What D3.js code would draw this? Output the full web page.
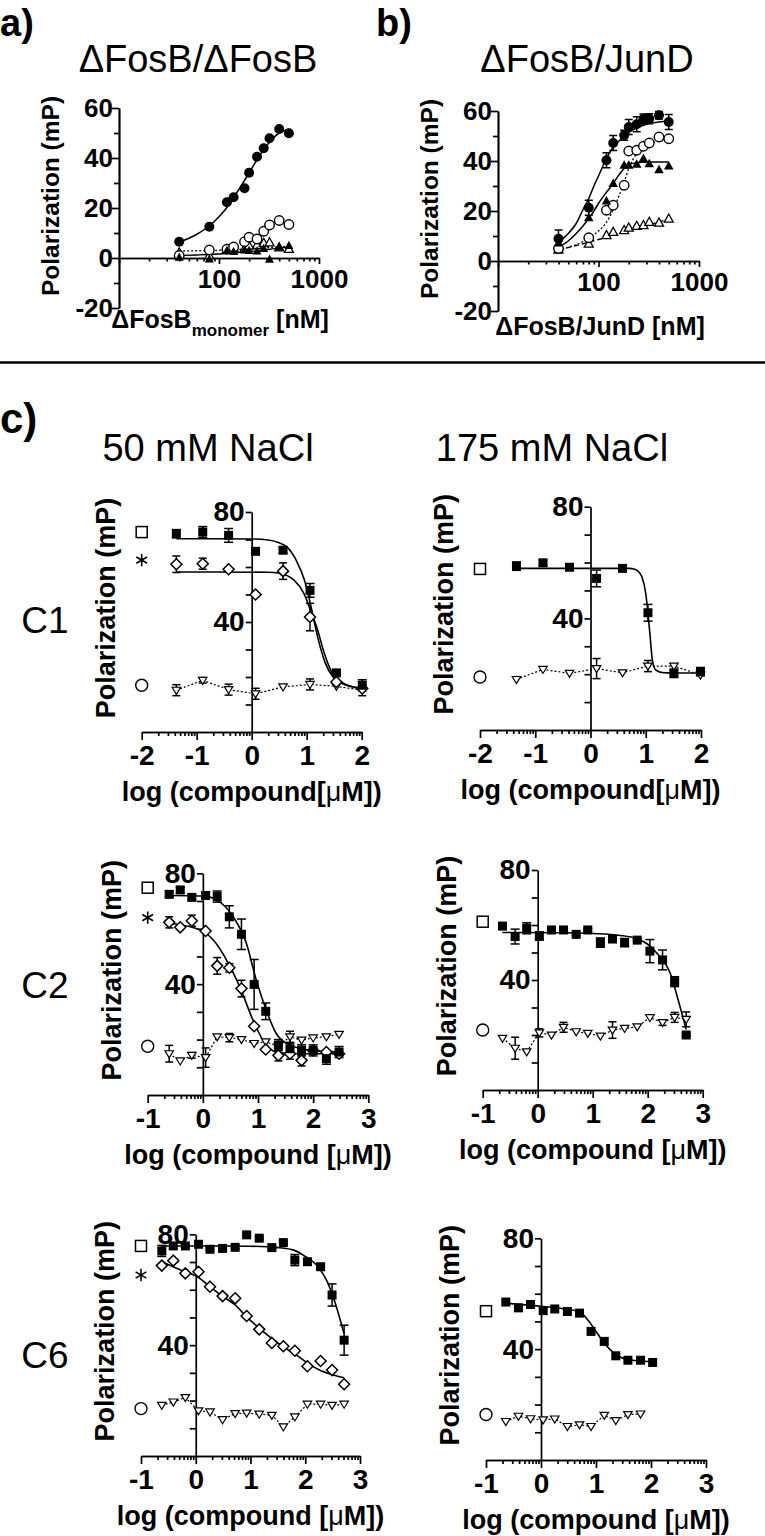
<!DOCTYPE html>
<html><head><meta charset="utf-8">
<script src="https://cdn.jsdelivr.net/npm/d3@7"></script>
<style>
body{margin:0;background:#fff}
svg{display:block}
text{font-family:'Liberation Sans',Arial,Helvetica,sans-serif;fill:#000}
</style>
</head><body>
<script>
// ---------------- DATA ----------------
// panel a / b : concentrations (nM)
const abConc = [40, 80, 120, 140, 180, 200, 240, 280, 320, 400, 500];
const abTicksMajor = [10, 100, 1000];
const abTicksMinor = [20, 30, 40, 50, 60, 70, 80, 90, 200, 300, 400, 500, 600, 700, 800, 900];
const abYMajor = [-20, 0, 20, 40, 60];
const abYMinor = [-10, 10, 30, 50];

const aFilledCircle   = [6.5, 12.5, 22.3, 24.3, 27.9, 34.1, 40.5, 43.9, 47.9, 51.6, 49.9];
const aOpenCircle     = [1.0, 3.2, 3.5, 4.4, 6.5, 8.3, 7.6, 10.7, 13.2, 15.0, 13.4];
const aOpenTriangle   = [2.2, 1.0, 3.5, 4.0, 3.8, 4.9, 5.2, 6.0, 6.2, 4.2, 3.6];
const aFilledTriangle = [0.3, -0.4, 3.0, 2.6, 3.2, 3.0, 2.8, 3.8, -0.5, 4.4, 5.0];
const aFitConc        = [40, 60, 80, 100, 120, 150, 200, 250, 300, 400, 500];
const aFitFilledCircle   = [6.3, 9.5, 12.8, 16.5, 20.2, 26, 34, 40.5, 45, 50, 51.5];
const aFitOpenTriangle   = [2.8, 2.9, 3.0, 3.1, 3.2, 3.4, 3.6, 3.9, 4.1, 4.4, 4.6];
const aFitFilledTriangle = [1.0, 1.2, 1.4, 1.6, 1.8, 2.1, 2.6, 3.0, 3.4, 4.0, 4.5];

const bFilledCircle    = [8.9, 21.3, 40.3, 47.2, 50.3, 53.6, 54.7, 56.8, 56.9, 58.3, 55.6];
const bFilledCircleErr = [3.5, 3, 3, 3, 2, 3, 3, 2, 2, 1.5, 3];
const bOpenCircle      = [5.0, 9.3, 20.3, 22.3, 30.3, 44.0, 44.3, 45.9, 47.2, 49.6, 48.9];
const bFilledTriangle  = [7.2, 17.3, 24.0, 31.0, 38.3, 38.3, 38.7, 41.0, 38.9, 36.5, 38.0];
const bOpenTriangle    = [4.5, 6.9, 10.3, 11.6, 12.3, 13.3, 14.0, 14.3, 15.6, 15.3, 16.9];
const bFitConc         = [40, 50, 60, 70, 80, 90, 100, 120, 140, 160, 180, 200, 240, 280, 320, 400, 500];
const bFitFilledCircle   = [7.5, 11, 15, 20.5, 25, 30, 34, 41, 45.5, 48, 50, 51.5, 53.2, 54.3, 55, 55.6, 56];
const bFitFilledTriangle = [5.5, 8, 11, 14, 17, 20, 23, 27.5, 31, 34.5, 37, 38.5, 39.3, 39.5, 39.6, 39.6, 39.6];
const bFitOpenCircle     = [4.5, 5.5, 6.5, 7.8, 9, 10.5, 12, 15.5, 20.5, 26, 31.5, 37, 43, 45.5, 46.8, 48, 48.6];
const bFitOpenTriangle   = [4.5, 5.4, 6.2, 6.9, 7.5, 8.1, 8.6, 9.5, 10.3, 11, 11.6, 12.2, 13.1, 13.9, 14.5, 15.6, 16.7];

// panel c : log(compound [uM])
const cYTicks = [10, 20, 30, 40, 50, 60, 70, 80];
const cYLabels = [40, 80];
const c1XTicks = [-2, -1, 0, 1, 2];
const c26XTicks = [-1, 0, 1, 2, 3];

const c1LX = [-1.37, -0.89, -0.42, 0.07, 0.57, 1.06, 1.54, 2.01];
const c1LSquare = [72.1, 72.7, 71.5, 65.7, 66.1, 51.5, 21.5, 17.0];
const c1LSquareErr = [1.5, 2, 2.5, 1, 1, 2.5, 1, 2];
const c1LDiamond = [61.0, 61.2, 59.2, 50.0, 58.5, 41.8, 18.2, 15.8];
const c1LDiamondErr = [3, 2, 0, 0, 3, 5, 0, 0];
const c1LTriangle = [15.2, 18.8, 15.4, 13.9, 16.4, 17.3, 16.6, 15.2];
const c1LTriangleErr = [2, 1, 2, 2, 0, 2, 0, 2];
const c1LFitSX = [-1.37, 0, 0.3, 0.5, 0.64, 0.81, 0.96, 1.08, 1.2, 1.33, 1.48, 1.72, 2.02];
const c1LFitS  = [70.3, 70.2, 69.8, 68.8, 67.3, 62.4, 55.2, 45.5, 34.5, 25.5, 20, 17, 15.8];
const c1LFitDX = [-1.37, 0.3, 0.5, 0.77, 0.95, 1.07, 1.2, 1.32, 1.47, 1.68, 2.02];
const c1LFitD  = [58.2, 58.1, 57.7, 55.2, 50.3, 44.2, 37, 28.6, 21.2, 17.6, 15.9];
const c1LControls = [72.7, 62.5, 17.0];

const c1RX = [-1.34, -0.86, -0.38, 0.11, 0.58, 1.04, 1.51, 1.99];
const c1RSquare = [58.7, 59.9, 58.3, 54.3, 57.9, 42.0, 20.3, 20.9];
const c1RSquareErr = [1.5, 1, 1, 3, 1, 3, 1.5, 1.5];
const c1RTriangle = [18.1, 21.7, 20.3, 22.0, 20.5, 22.9, 22.9, 19.7];
const c1RTriangleErr = [0, 0, 0, 3.6, 0, 2, 0, 0];
const c1RFitSX = [-1.34, 0.7, 0.8, 0.88, 0.93, 1.0, 1.04, 1.08, 1.12, 1.18, 1.33, 1.99];
const c1RFitS  = [57.9, 57.9, 57.6, 56.5, 54.9, 48.9, 41.8, 33.4, 25, 21.5, 20.5, 20.4];
const c1RControls = [57.7, null, 19.0];

const c2LX = [-0.61, -0.41, -0.20, 0.05, 0.26, 0.48, 0.70, 0.93, 1.14, 1.37, 1.58, 1.79, 2.00, 2.24, 2.47];
const c2LSquare = [72.4, 74.0, 71.3, 72.0, 71.6, 64.3, 58.0, 39.9, 30.2, 18.0, 16.7, 16.1, 16.1, 13.1, 15.5];
const c2LSquareErr = [1, 1, 1, 1, 2, 4, 5.5, 9, 3, 2, 2, 2, 2, 2, 2];
const c2LDiamond = [62.3, 60.5, 62.9, 59.2, 46.6, 45.9, 38.4, 24.8, 16.4, 14.3, 14.9, 12.5, 16.1, 15.5, 14.9];
const c2LDiamondErr = [2, 0, 2, 0, 3, 1.5, 3, 0, 0, 2, 2, 2, 0, 0, 0];
const c2LTriangle = [14.9, 12.3, 14.3, 13.5, 21.0, 20.7, 20.0, 18.6, 19.2, 17.6, 21.0, 19.8, 20.6, 21.0, 21.9];
const c2LTriangleErr = [3, 0, 1, 3.5, 0, 1.5, 0, 0, 0, 0, 2, 0, 0, 0, 0];
const c2LFitSX = [-0.61, 0, 0.25, 0.55, 0.79, 0.97, 1.15, 1.33, 1.58, 2.0, 2.47];
const c2LFitS  = [72, 71.8, 70.4, 64.3, 54.7, 41.4, 30.6, 22.2, 18, 16, 15.5];
const c2LFitDX = [-0.61, -0.04, 0.19, 0.43, 0.67, 0.91, 1.09, 1.33, 1.6, 2.0, 2.47];
const c2LFitD  = [62.0, 59.5, 55.9, 48.7, 39, 27, 19.8, 15.5, 15, 14.9, 14.9];
const c2LControls = [74.8, 64.0, 17.6];

const c2RX = [-0.64, -0.41, -0.20, 0.03, 0.25, 0.47, 0.70, 0.91, 1.14, 1.36, 1.58, 1.81, 2.04, 2.27, 2.49, 2.70];
const c2RSquare = [59.6, 55.8, 58.8, 56.0, 58.2, 58.2, 56.6, 58.2, 53.6, 54.9, 53.6, 54.5, 50.5, 47.3, 39.4, 20.0];
const c2RSquareErr = [0.5, 2.7, 2, 1.5, 0.5, 0.5, 0.5, 0.5, 1.7, 1, 1.5, 0.5, 4.2, 3.6, 1.8, 0.5];
const c2RTriangle = [18.8, 15.2, 13.9, 20.8, 20.0, 22.8, 21.2, 20.6, 19.6, 21.8, 22.4, 23.0, 26.3, 24.5, 26.4, 25.7];
const c2RTriangleErr = [0, 4, 0, 1.5, 0, 1.8, 0, 0, 0, 3, 0, 0, 0, 1, 1.8, 2.7];
const c2RFitSX = [-0.64, 0.5, 1.0, 1.5, 1.8, 2.0, 2.2, 2.4, 2.55, 2.7];
const c2RFitS  = [57.3, 57.2, 56.9, 56.2, 55, 53, 49, 43, 33, 22];
const c2RControls = [61.2, null, 21.8];

const c6LX = [-0.62, -0.41, -0.19, 0.05, 0.26, 0.49, 0.72, 0.93, 1.16, 1.39, 1.60, 1.81, 2.04, 2.28, 2.49, 2.71];
const c6LSquare = [74.0, 75.8, 75.8, 76.4, 74.6, 74.9, 75.3, 79.8, 78.6, 75.2, 77.0, 70.7, 70.1, 68.3, 58.1, 41.8];
const c6LSquareErr = [2, 1, 0.5, 0.5, 0.5, 0.5, 0.5, 0.5, 0.5, 0.5, 0.5, 2, 1, 1, 4, 5.4];
const c6LDiamond = [68.7, 70.5, 65.9, 66.5, 61.1, 57.7, 56.9, 50.5, 45.7, 40.8, 39.6, 38.0, 32.4, 34.3, 31.0, 25.9];
const c6LTriangle = [18.3, 19.5, 21.1, 16.3, 15.9, 13.1, 15.3, 15.5, 15.1, 14.7, 10.5, 14.1, 18.7, 18.7, 18.3, 18.7];
const c6LFitSX = [-0.62, 0, 0.5, 1.0, 1.5, 1.8, 2.0, 2.2, 2.4, 2.55, 2.71];
const c6LFitS  = [75.8, 75.8, 75.8, 75.7, 75.2, 74.2, 72, 69, 63, 55, 44];
const c6LFitDX = [-0.62, -0.2, 0.03, 0.26, 0.5, 0.72, 0.93, 1.17, 1.39, 1.6, 1.84, 2.05, 2.26, 2.51, 2.71];
const c6LFitD  = [70.1, 66.5, 64.7, 61.1, 57.5, 54.5, 50.2, 46, 42.4, 39.4, 36.4, 33.4, 31, 29.2, 28.2];
const c6LControls = [75.8, 65.3, 17.1];

const c6RX = [-0.64, -0.41, -0.19, 0.04, 0.25, 0.48, 0.70, 0.91, 1.15, 1.36, 1.58, 1.81, 2.03];
const c6RSquare = [57.0, 54.9, 56.1, 53.9, 54.5, 53.6, 53.0, 46.4, 42.8, 37.6, 36.0, 36.0, 35.2];
const c6RTriangleX = [-0.64, -0.41, -0.19, 0.04, 0.25, 0.48, 0.70, 0.91, 1.15, 1.36, 1.58, 1.81];
const c6RTriangle = [13.9, 15.8, 14.9, 14.5, 14.8, 12.1, 12.7, 12.1, 16.1, 14.2, 16.4, 16.6];
const c6RFitSX = [-0.64, 0.04, 0.4, 0.71, 0.86, 1.01, 1.19, 1.35, 1.53, 1.75, 2.04];
const c6RFitS  = [56.6, 55.4, 54.6, 53.3, 50.3, 46.1, 41.2, 38.2, 36.4, 35.8, 35.5];
const c6RControls = [53.7, null, 16.4];

// ---------------- DRAWING ----------------
const FONT = "'Liberation Sans', Arial, Helvetica, sans-serif";
const svg = d3.select("body").append("svg").attr("width", 765).attr("height", 1536);
svg.append("rect").attr("width", 765).attr("height", 1536).attr("fill", "#fff");

function marker(g, type, cx, cy, s) {
  const h = s / 2;
  let el;
  switch (type) {
    case "fcircle": el = g.append("circle").attr("cx", cx).attr("cy", cy).attr("r", h).attr("fill", "#000"); break;
    case "ocircle": el = g.append("circle").attr("cx", cx).attr("cy", cy).attr("r", h).attr("fill", "#fff").attr("stroke", "#000").attr("stroke-width", 1.4); break;
    case "ftri": el = g.append("path").attr("d", `M${cx},${cy - h * 1.05}L${cx + h},${cy + h * 0.75}L${cx - h},${cy + h * 0.75}Z`).attr("fill", "#000"); break;
    case "otri": el = g.append("path").attr("d", `M${cx},${cy - h * 1.05}L${cx + h},${cy + h * 0.75}L${cx - h},${cy + h * 0.75}Z`).attr("fill", "#fff").attr("stroke", "#000").attr("stroke-width", 1.3); break;
    case "otridown": el = g.append("path").attr("d", `M${cx - h},${cy - h * 0.7}L${cx + h},${cy - h * 0.7}L${cx},${cy + h * 0.95}Z`).attr("fill", "#fff").attr("stroke", "#000").attr("stroke-width", 1.2); break;
    case "fsquare": el = g.append("rect").attr("x", cx - h).attr("y", cy - h).attr("width", s).attr("height", s).attr("fill", "#000"); break;
    case "osquare": el = g.append("rect").attr("x", cx - h).attr("y", cy - h).attr("width", s).attr("height", s).attr("fill", "#fff").attr("stroke", "#000").attr("stroke-width", 1.5); break;
    case "odiamond": el = g.append("path").attr("d", `M${cx},${cy - h}L${cx + h},${cy}L${cx},${cy + h}L${cx - h},${cy}Z`).attr("fill", "#fff").attr("stroke", "#000").attr("stroke-width", 1.5); break;
    case "asterisk": el = g.append("path").attr("d", d3.symbol(d3.symbolAsterisk, s * s * 0.9)()).attr("transform", `translate(${cx},${cy})`).attr("fill", "none").attr("stroke", "#000").attr("stroke-width", 1.6); break;
  }
  return el;
}

function errbars(g, xs, ys, es, x, y, cap) {
  xs.forEach((xv, i) => {
    const e = es ? es[i] : 0;
    if (!e) return;
    const px = x(xv), t = y(ys[i] + e), b = y(ys[i] - e);
    g.append("line").attr("x1", px).attr("x2", px).attr("y1", t).attr("y2", b).attr("stroke", "#000").attr("stroke-width", 1.5);
    [t, b].forEach(v => g.append("line").attr("x1", px - cap).attr("x2", px + cap).attr("y1", v).attr("y2", v).attr("stroke", "#000").attr("stroke-width", 1.5));
  });
}

function drawLine(g, xs, ys, x, y, dash, smooth, w) {
  const pts = xs.map((v, i) => [v, ys[i]]);
  const line = d3.line().x(d => x(d[0])).y(d => y(d[1]));
  if (smooth) line.curve(d3.curveMonotoneX);
  g.append("path").attr("d", line(pts)).attr("fill", "none").attr("stroke", "#000")
    .attr("stroke-width", w || 1.5).attr("stroke-dasharray", dash || null);
}

function styleAxis(sel, size) {
  sel.attr("font-family", FONT).attr("font-size", size).attr("font-weight", "bold");
  sel.selectAll("path,line").attr("stroke", "#000").attr("stroke-width", 1.7);
  sel.selectAll("text").attr("fill", "#000");
}

// ---------- panel labels / titles ----------
svg.append("text").attr("x", 0).attr("y", 35.5).attr("font-size", 38).attr("font-weight", "bold").text("a)");
svg.append("text").attr("x", 376).attr("y", 35.5).attr("font-size", 38).attr("font-weight", "bold").text("b)");
svg.append("text").attr("x", 0).attr("y", 433).attr("font-size", 42).attr("font-weight", "bold").text("c)");
svg.append("text").attr("x", 198).attr("y", 72).attr("text-anchor", "middle").attr("font-size", 38).text("ΔFosB/ΔFosB");
svg.append("text").attr("x", 587).attr("y", 72).attr("text-anchor", "middle").attr("font-size", 38).text("ΔFosB/JunD");
svg.append("line").attr("x1", 0).attr("x2", 765).attr("y1", 362.5).attr("y2", 362.5).attr("stroke", "#000").attr("stroke-width", 2.5);
svg.append("text").attr("x", 208).attr("y", 461).attr("text-anchor", "middle").attr("font-size", 38).text("50 mM NaCl");
svg.append("text").attr("x", 552).attr("y", 461).attr("text-anchor", "middle").attr("font-size", 38).text("175 mM NaCl");
[["C1", 620], ["C2", 985], ["C6", 1355]].forEach(([t, yy]) =>
  svg.append("text").attr("x", 45).attr("y", yy).attr("dy", "0.36em").attr("text-anchor", "middle").attr("font-size", 37).text(t));

// ---------- panels a / b ----------
function abPanel(p) {
  const x = d3.scaleLog().domain([10, 1000]).range(p.xr);
  const y = d3.scaleLinear().domain([-20, 60]).range(p.yr);
  const g = svg.append("g");
  g.append("g").attr("transform", `translate(${p.xr[0]},0)`)
    .call(d3.axisLeft(y).tickValues(abYMinor).tickSize(5).tickSizeOuter(0).tickFormat(""))
    .call(s => styleAxis(s, 26));
  g.append("g").attr("transform", `translate(${p.xr[0]},0)`)
    .call(d3.axisLeft(y).tickValues(abYMajor).tickSize(7).tickSizeOuter(0).tickPadding(-1).tickFormat(d => d < 0 ? "-" + Math.abs(d) : d))
    .call(s => styleAxis(s, 26));
  g.append("g").attr("transform", `translate(0,${y(0)})`)
    .call(d3.axisBottom(x).tickValues(abTicksMinor).tickSize(3.5).tickSizeOuter(0).tickFormat(""))
    .call(s => styleAxis(s, 26));
  g.append("g").attr("transform", `translate(0,${y(0)})`)
    .call(d3.axisBottom(x).tickValues(abTicksMajor).tickSize(6).tickSizeOuter(0).tickPadding(6).tickFormat(d => d === 10 ? "" : d))
    .call(s => styleAxis(s, 26));
  g.append("text").attr("transform", `translate(${p.ytx},${p.yty}) rotate(-90)`).attr("text-anchor", "middle")
    .attr("dy", "0.35em").attr("font-size", 24.5).attr("font-weight", "bold").text("Polarization (mP)");
  p.draw(g, x, y);
}

abPanel({
  xr: [119, 319], yr: [308, 108], ytx: 50, yty: 196,
  draw(g, x, y) {
    drawLine(g, aFitConc, aFitOpenTriangle, x, y, "2,2", true, 1.3);
    drawLine(g, aFitConc, aFitFilledTriangle, x, y, null, true, 1.3);
    drawLine(g, aFitConc, aFitFilledCircle, x, y, null, true, 1.5);
    abConc.forEach((c, i) => marker(g, "otri", x(c), y(aOpenTriangle[i]), 9));
    abConc.forEach((c, i) => marker(g, "ocircle", x(c), y(aOpenCircle[i]), 9.5));
    abConc.forEach((c, i) => marker(g, "ftri", x(c), y(aFilledTriangle[i]), 9));
    abConc.forEach((c, i) => marker(g, "fcircle", x(c), y(aFilledCircle[i]), 10));
    const t = g.append("text").attr("x", 220).attr("y", 328).attr("text-anchor", "middle").attr("font-size", 25).attr("font-weight", "bold");
    t.append("tspan").text("ΔFosB");
    t.append("tspan").attr("font-size", 17).attr("dy", 8).text("monomer");
    t.append("tspan").attr("dy", -8).text(" [nM]");
  }
});

abPanel({
  xr: [498, 699], yr: [311, 111], ytx: 429, yty: 199,
  draw(g, x, y) {
    drawLine(g, bFitConc, bFitOpenTriangle, x, y, "5,3", true, 1.3);
    drawLine(g, bFitConc, bFitOpenCircle, x, y, "2,2", true, 1.3);
    drawLine(g, bFitConc, bFitFilledTriangle, x, y, null, true, 1.5);
    drawLine(g, bFitConc, bFitFilledCircle, x, y, null, true, 1.5);
    errbars(g, abConc, bFilledCircle, bFilledCircleErr, x, y, 4);
    abConc.forEach((c, i) => marker(g, "otri", x(c), y(bOpenTriangle[i]), 9));
    abConc.forEach((c, i) => marker(g, "ocircle", x(c), y(bOpenCircle[i]), 9.5));
    abConc.forEach((c, i) => marker(g, "ftri", x(c), y(bFilledTriangle[i]), 9.5));
    abConc.forEach((c, i) => marker(g, "fcircle", x(c), y(bFilledCircle[i]), 10));
    g.append("text").attr("x", 600).attr("y", 335).attr("text-anchor", "middle").attr("font-size", 25).attr("font-weight", "bold").text("ΔFosB/JunD [nM]");
  }
});

// ---------- panels c ----------
function cPanel(p) {
  const x = d3.scaleLinear().domain([p.ticks[0], p.ticks[p.ticks.length - 1]]).range(p.xr);
  const y = d3.scaleLinear().domain([0, 80]).range(p.yr);
  const g = svg.append("g");
  const minors = [];
  for (let i = 0; i < p.ticks.length - 1; i++) for (let k = 2; k < 10; k++) minors.push(p.ticks[i] + Math.log10(k));
  g.append("g").attr("transform", `translate(0,${y(0)})`)
    .call(d3.axisBottom(x).tickValues(minors).tickSize(4).tickSizeOuter(0).tickFormat(""))
    .call(s => styleAxis(s, 28));
  g.append("g").attr("transform", `translate(0,${y(0)})`)
    .call(d3.axisBottom(x).tickValues(p.ticks).tickSize(8).tickSizeOuter(0).tickPadding(5).tickFormat(d => d < 0 ? "-" + Math.abs(d) : d))
    .call(s => styleAxis(s, 28));
  g.append("g").attr("transform", `translate(${x(0)},0)`)
    .call(d3.axisLeft(y).tickValues(cYTicks).tickSize(6).tickSizeOuter(0).tickPadding(1).tickFormat(d => cYLabels.includes(d) ? d : ""))
    .call(s => styleAxis(s, 28));
  g.append("text").attr("transform", `translate(${p.xr[0] - 36},${(p.yr[0] + p.yr[1]) / 2 - 14}) rotate(-90)`)
    .attr("text-anchor", "middle").attr("dy", "0.35em").attr("font-size", 27).attr("font-weight", "bold").text("Polarization (mP)");
  const t = g.append("text").attr("x", (p.xr[0] + p.xr[1]) / 2).attr("y", y(0) + 69).attr("text-anchor", "middle")
    .attr("font-size", 27).attr("font-weight", "bold");
  t.append("tspan").text(p.space ? "log (compound [" : "log (compound[");
  t.append("tspan").attr("font-weight", "normal").text("μ");
  t.append("tspan").text("M])");
  const x0 = p.ticks[0];
  const ctl = ["osquare", "asterisk", "ocircle"];
  p.controls.forEach((v, i) => { if (v !== null) marker(g, ctl[i], x(x0), y(v), i === 0 ? 11 : i === 1 ? 11 : 12); });
  if (p.tri) drawLine(g, p.tri.x, p.tri.y, x, y, "2,2", false, 1.2);
  p.fits.forEach(f => drawLine(g, f.x, f.y, x, y, null, true, 1.6));
  if (p.tri) errbars(g, p.tri.x, p.tri.y, p.tri.e, x, y, 4);
  if (p.dia) errbars(g, p.dia.x, p.dia.y, p.dia.e, x, y, 4);
  errbars(g, p.sq.x, p.sq.y, p.sq.e, x, y, 4.5);
  if (p.tri) p.tri.x.forEach((v, i) => marker(g, "otridown", x(v), y(p.tri.y[i]), 8.5));
  if (p.dia) p.dia.x.forEach((v, i) => marker(g, "odiamond", x(v), y(p.dia.y[i]), 11));
  p.sq.x.forEach((v, i) => marker(g, "fsquare", x(v), y(p.sq.y[i]), 9));
}

cPanel({ xr: [141.7, 361.7], yr: [732, 512], ticks: c1XTicks, space: false, controls: c1LControls,
  sq: { x: c1LX, y: c1LSquare, e: c1LSquareErr }, dia: { x: c1LX, y: c1LDiamond, e: c1LDiamondErr },
  tri: { x: c1LX, y: c1LTriangle, e: c1LTriangleErr },
  fits: [{ x: c1LFitSX, y: c1LFitS }, { x: c1LFitDX, y: c1LFitD }] });

cPanel({ xr: [480, 701], yr: [730, 506.7], ticks: c1XTicks, space: false, controls: c1RControls,
  sq: { x: c1RX, y: c1RSquare, e: c1RSquareErr }, dia: null,
  tri: { x: c1RX, y: c1RTriangle, e: c1RTriangleErr },
  fits: [{ x: c1RFitSX, y: c1RFitS }] });

cPanel({ xr: [147.7, 368.3], yr: [1095, 873.3], ticks: c26XTicks, space: true, controls: c2LControls,
  sq: { x: c2LX, y: c2LSquare, e: c2LSquareErr }, dia: { x: c2LX, y: c2LDiamond, e: c2LDiamondErr },
  tri: { x: c2LX, y: c2LTriangle, e: c2LTriangleErr },
  fits: [{ x: c2LFitSX, y: c2LFitS }, { x: c2LFitDX, y: c2LFitD }] });

cPanel({ xr: [482.7, 702.7], yr: [1090, 870], ticks: c26XTicks, space: true, controls: c2RControls,
  sq: { x: c2RX, y: c2RSquare, e: c2RSquareErr }, dia: null,
  tri: { x: c2RX, y: c2RTriangle, e: c2RTriangleErr },
  fits: [{ x: c2RFitSX, y: c2RFitS }] });

cPanel({ xr: [141, 360], yr: [1456, 1234.3], ticks: c26XTicks, space: true, controls: c6LControls,
  sq: { x: c6LX, y: c6LSquare, e: c6LSquareErr }, dia: { x: c6LX, y: c6LDiamond, e: null },
  tri: { x: c6LX, y: c6LTriangle, e: null },
  fits: [{ x: c6LFitSX, y: c6LFitS }, { x: c6LFitDX, y: c6LFitD }] });

cPanel({ xr: [486, 706], yr: [1460, 1238.3], ticks: c26XTicks, space: true, controls: c6RControls,
  sq: { x: c6RX, y: c6RSquare, e: null }, dia: null,
  tri: { x: c6RTriangleX, y: c6RTriangle, e: null },
  fits: [{ x: c6RFitSX, y: c6RFitS }] });
</script>
</body></html>
